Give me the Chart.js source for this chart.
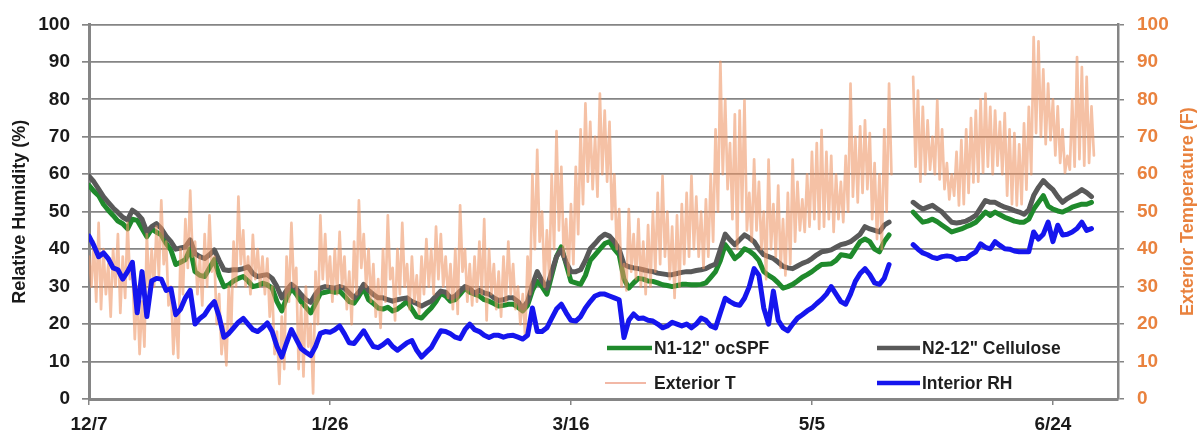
<!DOCTYPE html>
<html>
<head>
<meta charset="utf-8">
<script src="https://cdn.jsdelivr.net/npm/chart.js@4.4.1/dist/chart.umd.min.js"></script>
<style>
  html, body { margin: 0; padding: 0; background: #ffffff; }
  #wrap { width: 1202px; height: 441px; position: relative; }
</style>
</head>
<body>
<div id="wrap"><canvas id="chart" width="1202" height="441"></canvas></div>
<script>
// Date ticks every 50 days starting 12/7
const tickLabels = ['12/7', '1/26', '3/16', '5/5', '6/24'];
const tickStepDays = 50;
const axisMaxDays = 213.5;

const leftAxisTitle = 'Relative Humidity (%)';
const rightAxisTitle = 'Exterior Temperature (F)';

const seriesNames = ['N1-12" ocSPF', 'N2-12" Cellulose', 'Exterior T', 'Interior RH'];

// Daily relative humidity (%), one value per day from 12/7; null = logger gap
const n1Ocspf = [
  57, 55.5, 54.3, 52, 50.4, 49, 47.5, 46.8, 45.4, 48,
  47.7, 45.5, 43.3, 45.4, 44.5, 43.8, 41.5, 39.8, 35.9, 36.5,
  37.2, 40.1, 34, 33, 32.7, 35, 37.2, 33, 30, 30.5,
  31.5, 32.2, 32.7, 31.5, 30, 30.3, 30.9, 30.5, 29.6, 26,
  23.5, 27, 29.6, 28, 26, 24.5, 23, 25.5, 28.2, 28.5,
  28.8, 28.5, 28.8, 27.5, 26, 25.6, 27.5, 29.6, 26.5, 25.5,
  24.3, 24, 24.5, 23.5, 24, 25, 26.1, 24, 22, 21.6,
  23, 24.3, 26, 28.2, 27.5, 26.1, 26.5, 28, 29.6, 28.5,
  28, 27.5, 26.5, 26.1, 25.5, 24.8, 25, 25.3, 25.3, 24.5,
  23.5, 25, 29, 31.4, 30, 28, 33, 38, 40.6, 36,
  31.4, 31, 30.6, 33, 37, 38.5, 40, 41.5, 42, 40,
  38.5, 32, 29.6, 31, 32.2, 32, 31.5, 31.4, 31, 30.5,
  30.3, 30, 30.3, 30.6, 30.6, 30.5, 30.5, 30.6, 31, 32.5,
  34, 37, 41.2, 39.5, 37.5, 38.5, 40.1, 39.5, 38.5, 37,
  34, 33, 32.2, 31, 29.6, 30, 30.6, 31.5, 32.5, 33.2,
  34, 35, 35.9, 36, 36.1, 37, 38.5, 38.3, 38, 40,
  42, 42.7, 42, 40, 39.3, 42, 43.8, null, null, null,
  null, 49.9, 48.5, 47.2, 47.5, 48, 47.3, 46.4, 45.5, 44.6,
  45, 45.4, 46, 46.5, 47.2, 48.5, 49.9, 49, 49.9, 49.2,
  48.5, 48, 47.5, 47.2, 47.2, 48, 50.7, 52.5, 54.3, 51.5,
  50.7, 50.2, 49.9, 50.5, 51.2, 51.6, 52, 52, 52.5
];

const n2Cellulose = [
  59.5, 58, 56, 54, 52.5, 51, 49.8, 48.5, 47.8, 50.4,
  49.5, 48, 44.6, 46, 46.8, 45.5, 43.5, 42, 40, 40.3,
  40.6, 42.5, 38.8, 38, 37.5, 38.5, 39.8, 37, 34.5, 34.3,
  34.5, 34.5, 34.8, 35.3, 33.5, 32.7, 33, 33.2, 32.2, 30,
  27, 29, 30.6, 29.5, 27.9, 26.5, 25.8, 28, 29.6, 30,
  29.8, 29.6, 30, 29.6, 28.3, 27, 28.5, 30.6, 29, 27.9,
  27, 27, 26.5, 26.1, 26.5, 26.8, 27, 26, 25.5, 24.8,
  25.5, 26.1, 27.5, 28.8, 28.5, 27, 27.5, 28.8, 30, 29.5,
  28.2, 29, 28.3, 28, 27, 26.3, 26.5, 27, 27, 26,
  24.3, 26, 30.5, 34, 31.5, 29.6, 34, 38, 39.8, 36.5,
  34, 34, 34.5, 37, 40.1, 41.5, 43, 44, 43.5, 42,
  40, 35.9, 35.3, 35, 34.8, 34.5, 34.2, 34, 33.6, 33.4,
  33.2, 33.2, 33.5, 33.8, 34, 34, 34.3, 34.5, 34.8, 35.5,
  36, 40, 44, 42.5, 41.2, 42.5, 43.8, 43, 42, 40,
  38.5, 38, 37.5, 36.5, 35.4, 35, 34.8, 35.5, 36.2, 36.7,
  37.5, 38.5, 39.3, 39.5, 39.8, 40.5, 41.2, 41.5, 42, 43,
  44, 46, 45.4, 45, 44.6, 46.4, 47.2, null, null, null,
  null, 52.5, 51.5, 50.7, 51.2, 51.7, 50.8, 49.9, 48.5, 47.2,
  47, 47.2, 47.5, 48.2, 49, 51, 53, 52.5, 52.5, 51.8,
  51.2, 50.8, 50.3, 49.9, 49.3, 50.5, 54.3, 56.5, 58.3, 57,
  55.9, 54, 52.5, 53.5, 54.3, 55, 55.9, 55.1, 54
];

const interiorRh = [
  43.5, 41, 38, 39, 37.5, 35, 34.5, 32, 34, 36.5,
  23, 34, 22, 31.5, 32.2, 32, 29, 29.5, 22.5, 24,
  27, 29, 20, 21.5, 22.5, 24.5, 26, 22, 16.5, 17.5,
  19, 20.5, 21.5, 20, 18.5, 18, 19, 20.3, 18, 14,
  11.2, 15, 18.5, 16, 13.5, 12.5, 11.6, 14, 17.5, 18,
  17.8, 18.5, 19.5, 17.4, 15, 14.8, 16.5, 18.2, 16, 14,
  13.7, 14.5, 15.6, 14, 13, 14, 15, 15.6, 13, 11.2,
  12.5, 13.7, 16, 18.2, 18, 17.4, 16.5, 16.1, 18.5, 20,
  18.5, 18, 17, 16.4, 17, 17, 16.5, 16.9, 17, 16.5,
  16, 17, 24.3, 18, 18, 19, 21.5, 24, 25.3, 23,
  21, 20.8, 22, 24.3, 26, 27.5, 28, 28, 27.5, 27,
  26.5, 16.4, 21, 22.7, 21.5, 21.6, 21, 20.8, 20, 19,
  19.5, 20.5, 20, 19.5, 20, 19, 20, 21.6, 21, 19.5,
  19, 23, 26.9, 26, 25.3, 25, 26.9, 30, 34.8, 33,
  24.3, 20, 28.8, 21, 19, 18.2, 20, 21.6, 22.5, 23.5,
  24.3, 25.5, 26.6, 28, 30, 28, 26, 25.3, 28, 31.4,
  33.5, 34.8, 33.2, 31, 30.6, 32.2, 35.9, null, null, null,
  null, 41.2, 40, 39, 38.5, 37.8, 37.5, 38, 38.2, 38,
  37.2, 37.5, 37.5, 38.5, 39.3, 41.4, 40.5, 40.1, 42, 41,
  40.1, 40, 39.5, 39.3, 39.3, 39.3, 44.6, 42.7, 44, 47.2,
  42, 46.4, 43.8, 44, 44.6, 45.5, 47.2, 45, 45.5
];

// Exterior temperature (F), two readings per day (day, night) from 12/7
const exteriorT = [
  38, 30, 42, 26, 47, 24, 40, 28, 36, 22, 40, 30, 44, 23, 38, 27, 47, 32, 36, 16,
  30, 12, 26, 14, 44, 28, 40, 30, 46, 33, 53, 36, 42, 25, 30, 12, 24, 11, 40, 28,
  48, 35, 55.6, 38, 42, 28, 38, 25, 44, 30, 49, 34, 38, 20, 28, 12, 20, 9, 30, 18,
  42, 30, 54, 36, 45, 30, 38, 28, 43.8, 32, 40, 30, 38, 28, 37.5, 22, 30, 12, 18, 4,
  22, 8, 38, 26, 47, 30, 35, 8, 25, 6, 30, 14, 20, 1.5, 34, 20, 49, 32, 44, 30,
  38, 26, 40, 28, 44.6, 30, 38, 24, 34, 20, 42, 28, 53, 35, 44, 30, 40, 26, 36, 22,
  32, 19, 40, 26, 49, 32, 35, 21, 40, 28, 47, 30, 36, 24, 38, 26, 33, 22.7, 38, 28,
  42.7, 30, 40, 28, 46, 32, 44, 30, 38, 27, 36, 24, 40, 22.7, 51.7, 34, 40, 26, 36, 25,
  38, 26, 42, 28, 48, 21, 40, 28, 36, 24, 34, 22, 38, 26, 42, 28, 36, 24, 30, 20,
  28, 16.5, 38, 28, 60, 40, 66.5, 42, 50, 30, 45, 32, 60, 40, 71.5, 45, 62, 38, 48, 33,
  52, 36, 62, 44, 72, 52, 78.9, 58, 74, 56, 70, 54, 81.5, 60, 77, 58, 74, 48, 60, 40,
  50.7, 30, 36, 29, 50.7, 34, 44, 32, 48, 30, 42, 28, 46.4, 30, 50, 34, 55, 36, 59.6, 38,
  50, 32, 46, 27, 49, 30, 52, 36, 55, 38, 59.6, 40, 54, 38, 50, 35, 53.3, 38, 60, 42,
  72, 50, 90, 60, 80, 56, 68.3, 48, 76, 40, 77, 50, 79.7, 45, 55, 42, 64, 45, 58, 40,
  50, 32, 63.9, 40, 52, 38, 57, 35, 48, 33, 55, 36, 63.9, 42, 58, 45, 53.3, 44.6, 60, 46,
  66, 48, 68.3, 45.4, 71.8, 46, 66, 48, 64.9, 44.6, 60, 48, 58, 47.2, 64.9, 50, 84.2, 54, 70, 52.5,
  72.8, 55, 74.4, 56, 71, 48, 63, 42.7, 60, 40, 72, 50, 84.2, 60, null, null, null, null, null, null,
  null, null, 86, 62, 82.3, 58, 78, 60, 74.4, 61.2, 70, 60, 79.7, 58.6, 72, 56, 63, 53.3, 60, 54.3,
  66, 51.7, 69.1, 52, 72, 55, 75, 57.8, 77, 58, 80, 60.4, 81.5, 62, 78, 60, 77, 62.3, 74, 60,
  76.3, 54.3, 72, 52, 71, 51.7, 68, 52, 73.6, 55.9, 78, 60, 96.6, 71, 95.5, 70, 88, 68, 84.2, 69.1,
  80, 65, 78.1, 63, 72, 60.4, 64.9, 61.2, 80, 62, 91.3, 64, 88.6, 62.3, 86, 63, 78.1, 65
];

// ---- presentation ----
const FONT = '"Liberation Sans", Arial, sans-serif';
const GRID = '#858585';
const ORANGE_TEXT = '#E9823E';
const COLORS = {
  n1: '#1f8a2c',
  n2: '#595959',
  ext: 'rgba(238, 148, 100, 0.58)',
  extLegend: '#f2b8a6',
  rh: '#1515ee'
};

function toPoints(values, stepDays) {
  return values.map((v, i) => ({ x: i * stepDays, y: v }));
}

const axisTitles = {
  id: 'axisTitles',
  afterDraw(chart) {
    const ctx = chart.ctx;
    const area = chart.chartArea;
    const midY = (area.top + area.bottom) / 2;
    ctx.save();
    ctx.font = 'bold 18px ' + FONT;
    ctx.textAlign = 'center';
    ctx.textBaseline = 'middle';
    [[20, leftAxisTitle, '#1a1a1a'], [1188, rightAxisTitle, ORANGE_TEXT]].forEach(([x, text, color]) => {
      ctx.save();
      ctx.translate(x, midY);
      ctx.rotate(-Math.PI / 2);
      ctx.fillStyle = color;
      ctx.fillText(text, 0, 0);
      ctx.restore();
    });
    ctx.restore();
  }
};

const insideLegend = {
  id: 'insideLegend',
  afterDraw(chart) {
    const ctx = chart.ctx;
    const ds = chart.data.datasets;
    const slots = [
      { x1: 607, x2: 652, tx: 654, y: 348, w: 4.5 },
      { x1: 877, x2: 920, tx: 922, y: 348, w: 4.5 },
      { x1: 605, x2: 646, tx: 654, y: 383, w: 2 },
      { x1: 877, x2: 920, tx: 922, y: 383, w: 4.5 }
    ];
    ctx.save();
    ctx.font = 'bold 17.5px ' + FONT;
    ctx.textBaseline = 'middle';
    ctx.textAlign = 'left';
    ds.forEach((d, i) => {
      const s = slots[i];
      ctx.strokeStyle = d.legendColor || d.borderColor;
      ctx.lineWidth = s.w;
      ctx.beginPath();
      ctx.moveTo(s.x1, s.y);
      ctx.lineTo(s.x2, s.y);
      ctx.stroke();
      ctx.fillStyle = '#1f1f1f';
      ctx.fillText(d.label, s.tx, s.y + 1);
    });
    ctx.restore();
  }
};

const lineBase = { pointRadius: 0, borderJoinStyle: 'round', borderCapStyle: 'round', tension: 0, spanGaps: false };

// Lower "order" values are painted last (on top): interior RH over temperature over the wall sensors
new Chart(document.getElementById('chart'), {
  type: 'line',
  data: {
    datasets: [
      Object.assign({ label: seriesNames[0], data: toPoints(n1Ocspf, 1), borderColor: COLORS.n1, borderWidth: 5, yAxisID: 'y', order: 3 }, lineBase),
      Object.assign({ label: seriesNames[1], data: toPoints(n2Cellulose, 1), borderColor: COLORS.n2, borderWidth: 5, yAxisID: 'y', order: 2 }, lineBase),
      Object.assign({ label: seriesNames[2], data: toPoints(exteriorT, 0.5), borderColor: COLORS.ext, legendColor: COLORS.extLegend, borderWidth: 2.7, yAxisID: 'y2', order: 1 }, lineBase),
      Object.assign({ label: seriesNames[3], data: toPoints(interiorRh, 1), borderColor: COLORS.rh, borderWidth: 5, yAxisID: 'y', order: 0 }, lineBase)
    ]
  },
  options: {
    responsive: false,
    animation: false,
    layout: { padding: { top: 20, left: 0, right: 0, bottom: 0 } },
    plugins: { legend: { display: false }, tooltip: { enabled: false } },
    scales: {
      x: {
        type: 'linear',
        min: 0,
        max: axisMaxDays,
        afterFit(s) { s.height = 42; },
        border: { display: true, color: GRID, width: 3 },
        grid: { display: true, drawOnChartArea: false, drawTicks: true, tickLength: 6, color: GRID, lineWidth: 1.5 },
        ticks: {
          stepSize: tickStepDays,
          includeBounds: false,
          autoSkip: false,
          maxRotation: 0,
          padding: 8,
          color: '#1a1a1a',
          font: { family: FONT, size: 19, weight: 'bold' },
          callback(v) {
            const k = v / tickStepDays;
            return Number.isInteger(k) && tickLabels[k] !== undefined ? tickLabels[k] : '';
          }
        }
      },
      y: {
        position: 'left',
        min: 0,
        max: 100,
        afterFit(s) { s.width = 89; },
        border: { display: true, color: GRID, width: 3 },
        grid: { color: GRID, lineWidth: 1.7, tickLength: 7 },
        ticks: { stepSize: 10, padding: 12, color: '#1a1a1a', font: { family: FONT, size: 19, weight: 'bold' } }
      },
      y2: {
        position: 'right',
        min: 0,
        max: 100,
        afterFit(s) { s.width = 84; },
        border: { display: true, color: GRID, width: 2.5 },
        grid: { drawOnChartArea: false, color: GRID, lineWidth: 1.5, tickLength: 6 },
        ticks: { stepSize: 10, padding: 13, color: ORANGE_TEXT, font: { family: FONT, size: 19, weight: 'bold' } }
      }
    }
  },
  plugins: [axisTitles, insideLegend]
});
</script>
</body>
</html>
